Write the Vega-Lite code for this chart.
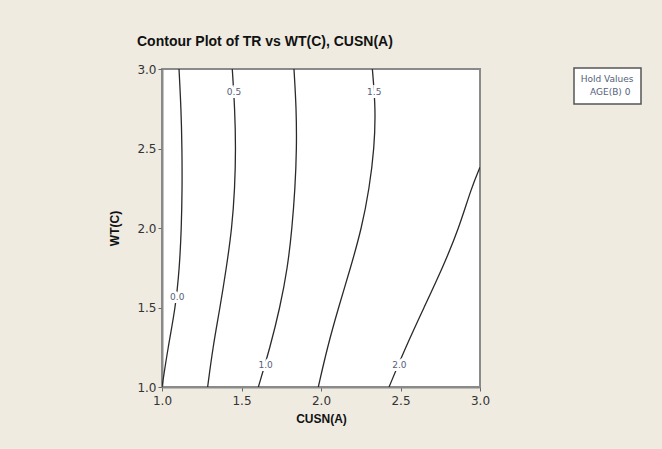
{
  "$schema": "https://vega.github.io/schema/vega-lite/v6.json",
  "autosize": {"type": "none"},
  "width": 318,
  "height": 318,
  "padding": {"left": 162, "top": 69, "right": 182, "bottom": 62},
  "background": "#EFEBE1",
  "title": {
    "text": "Contour Plot of TR vs WT(C), CUSN(A)",
    "anchor": "start",
    "frame": "group",
    "dx": -25,
    "offset": 14,
    "font": "Liberation Sans",
    "fontSize": 14,
    "fontWeight": "bold",
    "color": "#111111"
  },
  "config": {
    "view": {"stroke": "#8a8a8a", "strokeWidth": 2, "fill": "white"},
    "axis": {
      "grid": false,
      "labelFlush": false,
      "domainColor": "#8a8a8a",
      "domainWidth": 2,
      "tickColor": "#666666",
      "tickSize": 4,
      "labelFont": "DejaVu Sans",
      "labelFontSize": 12,
      "labelColor": "#333333",
      "titleFont": "Liberation Sans",
      "titleFontSize": 12,
      "titleFontWeight": "bold",
      "titleColor": "#111111"
    },
    "legend": {
      "orient": "none",
      "legendX": 412,
      "legendY": -1,
      "fillColor": "white",
      "strokeColor": "#555555",
      "strokeWidth": 1.5,
      "padding": 7,
      "titleFont": "DejaVu Sans",
      "titleFontSize": 9,
      "titleFontWeight": "normal",
      "titleColor": "#55607a",
      "titleAnchor": "middle",
      "titlePadding": 3,
      "labelFont": "DejaVu Sans",
      "labelFontSize": 9,
      "labelColor": "#55607a",
      "symbolSize": 0,
      "symbolOpacity": 0,
      "symbolStrokeWidth": 0,
      "labelOffset": 0
    }
  },
  "datasets": {
    "contours": [
      {"level": "0.0", "x": 1.0, "y": 1.0},
      {"level": "0.0", "x": 1.038, "y": 1.25},
      {"level": "0.0", "x": 1.085, "y": 1.5},
      {"level": "0.0", "x": 1.11, "y": 1.75},
      {"level": "0.0", "x": 1.122, "y": 2.0},
      {"level": "0.0", "x": 1.127, "y": 2.25},
      {"level": "0.0", "x": 1.126, "y": 2.5},
      {"level": "0.0", "x": 1.12, "y": 2.75},
      {"level": "0.0", "x": 1.107, "y": 3.0},
      {"level": "0.5", "x": 1.287, "y": 1.0},
      {"level": "0.5", "x": 1.32, "y": 1.25},
      {"level": "0.5", "x": 1.365, "y": 1.5},
      {"level": "0.5", "x": 1.405, "y": 1.75},
      {"level": "0.5", "x": 1.44, "y": 2.0},
      {"level": "0.5", "x": 1.458, "y": 2.25},
      {"level": "0.5", "x": 1.464, "y": 2.5},
      {"level": "0.5", "x": 1.458, "y": 2.75},
      {"level": "0.5", "x": 1.442, "y": 3.0},
      {"level": "1.0", "x": 1.606, "y": 1.0},
      {"level": "1.0", "x": 1.68, "y": 1.25},
      {"level": "1.0", "x": 1.742, "y": 1.5},
      {"level": "1.0", "x": 1.79, "y": 1.75},
      {"level": "1.0", "x": 1.818, "y": 2.0},
      {"level": "1.0", "x": 1.837, "y": 2.25},
      {"level": "1.0", "x": 1.847, "y": 2.5},
      {"level": "1.0", "x": 1.845, "y": 2.75},
      {"level": "1.0", "x": 1.83, "y": 3.0},
      {"level": "1.5", "x": 1.983, "y": 1.0},
      {"level": "1.5", "x": 2.04, "y": 1.25},
      {"level": "1.5", "x": 2.11, "y": 1.5},
      {"level": "1.5", "x": 2.186, "y": 1.75},
      {"level": "1.5", "x": 2.256, "y": 2.0},
      {"level": "1.5", "x": 2.304, "y": 2.25},
      {"level": "1.5", "x": 2.335, "y": 2.5},
      {"level": "1.5", "x": 2.344, "y": 2.75},
      {"level": "1.5", "x": 2.323, "y": 3.0},
      {"level": "2.0", "x": 2.428, "y": 1.0},
      {"level": "2.0", "x": 2.532, "y": 1.25},
      {"level": "2.0", "x": 2.648, "y": 1.5},
      {"level": "2.0", "x": 2.765, "y": 1.75},
      {"level": "2.0", "x": 2.868, "y": 2.0},
      {"level": "2.0", "x": 2.945, "y": 2.25},
      {"level": "2.0", "x": 3.0, "y": 2.382}
    ],
    "labels": [
      {"level": "0.0", "x": 1.096, "y": 1.568},
      {"level": "0.5", "x": 1.453, "y": 2.853},
      {"level": "1.0", "x": 1.652, "y": 1.138},
      {"level": "1.5", "x": 2.335, "y": 2.853},
      {"level": "2.0", "x": 2.493, "y": 1.138}
    ],
    "hold": [
      {"hold": "AGE(B)  0", "x": 2, "y": 2}
    ]
  },
  "layer": [
    {
      "data": {"name": "contours"},
      "mark": {"type": "line", "color": "#2a2a2a", "strokeWidth": 1.3, "interpolate": "basis", "clip": true},
      "encoding": {
        "x": {
          "field": "x", "type": "quantitative",
          "scale": {"domain": [1, 3], "nice": false, "zero": false},
          "axis": {"values": [1, 1.5, 2, 2.5, 3], "format": ".1f", "title": "CUSN(A)", "labelPadding": 4, "titlePadding": 7}
        },
        "y": {
          "field": "y", "type": "quantitative",
          "scale": {"domain": [1, 3], "nice": false, "zero": false},
          "axis": {"values": [1, 1.5, 2, 2.5, 3], "format": ".1f", "title": "WT(C)", "labelPadding": 2, "titlePadding": 15}
        },
        "detail": {"field": "level"},
        "order": {"field": "y", "type": "quantitative"}
      }
    },
    {
      "data": {"name": "labels"},
      "mark": {"type": "text", "font": "DejaVu Sans", "fontSize": 9, "fill": "white", "stroke": "white", "strokeWidth": 6},
      "encoding": {
        "x": {"field": "x", "type": "quantitative"},
        "y": {"field": "y", "type": "quantitative"},
        "text": {"field": "level"}
      }
    },
    {
      "data": {"name": "labels"},
      "mark": {"type": "text", "font": "DejaVu Sans", "fontSize": 9, "fill": "#55607a"},
      "encoding": {
        "x": {"field": "x", "type": "quantitative"},
        "y": {"field": "y", "type": "quantitative"},
        "text": {"field": "level"}
      }
    },
    {
      "data": {"name": "hold"},
      "mark": {"type": "point", "opacity": 0},
      "encoding": {
        "x": {"field": "x", "type": "quantitative"},
        "y": {"field": "y", "type": "quantitative"},
        "color": {"field": "hold", "type": "nominal", "scale": {"range": ["#ffffff"]}, "legend": {"title": "Hold Values"}}
      }
    }
  ]
}
